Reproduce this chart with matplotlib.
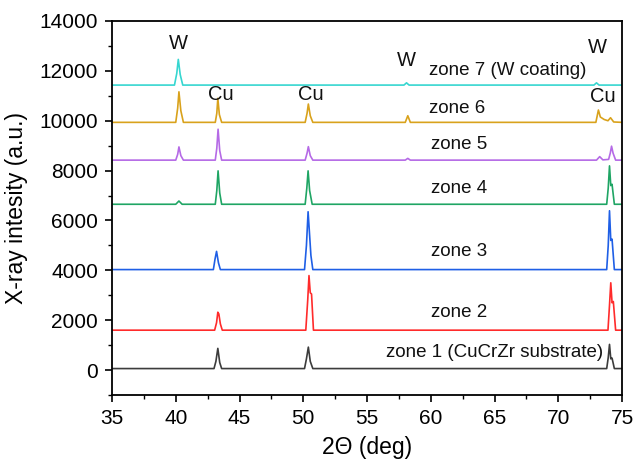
import matplotlib
matplotlib.use("Agg")
import matplotlib.pyplot as plt
from matplotlib.ticker import MultipleLocator

plt.rcParams['font.family'] = ['Liberation Sans', 'DejaVu Sans']

# ---- data (2-theta in deg, intensity in a.u.) ----
zone1_x = [35, 43.0, 43.15, 43.3, 43.45, 43.6, 50.1, 50.25, 50.4, 50.55, 50.75, 73.8, 73.92, 74.02, 74.12, 74.22, 74.4, 75]
zone1_y = [60, 60, 350, 870, 300, 60, 60, 450, 920, 350, 60, 60, 500, 1030, 450, 480, 60, 60]

zone2_x = [35, 43.05, 43.2, 43.3, 43.38, 43.5, 43.65, 50.2, 50.35, 50.45, 50.55, 50.65, 50.8, 73.9, 74.02, 74.12, 74.22, 74.32, 74.5, 75]
zone2_y = [1600, 1600, 1900, 2320, 2250, 1850, 1600, 1600, 2800, 3790, 3100, 3050, 1600, 1600, 2600, 3500, 2700, 2750, 1600, 1600]

zone3_x = [35, 42.95, 43.08, 43.2, 43.35, 43.5, 50.1, 50.25, 50.38, 50.5, 50.6, 50.75, 73.8, 73.92, 74.02, 74.12, 74.22, 74.4, 75]
zone3_y = [4030, 4030, 4450, 4760, 4300, 4030, 4030, 5000, 6350, 5400, 4600, 4030, 4030, 5000, 6390, 5200, 5250, 4030, 4030]

zone4_x = [35, 40.0, 40.25, 40.5, 43.1, 43.22, 43.32, 43.45, 43.6, 50.15, 50.28, 50.38, 50.5, 50.7, 73.8, 73.92, 74.02, 74.12, 74.22, 74.4, 75]
zone4_y = [6650, 6650, 6780, 6650, 6650, 7200, 7990, 7100, 6650, 6650, 7300, 7990, 7200, 6650, 6650, 7300, 8190, 7400, 7450, 6650, 6650]

zone5_x = [35, 40.0, 40.15, 40.25, 40.4, 40.6, 43.1, 43.22, 43.32, 43.45, 43.6, 50.15, 50.3, 50.4, 50.55, 50.75, 58.0, 58.2, 58.4, 73.0, 73.25, 73.5, 73.95, 74.08, 74.18, 74.3, 74.5, 75]
zone5_y = [8420, 8420, 8650, 8950, 8600, 8420, 8420, 8900, 9660, 8800, 8420, 8420, 8700, 8960, 8600, 8420, 8420, 8490, 8420, 8420, 8560, 8430, 8450, 8700, 8980, 8700, 8420, 8420]

zone6_x = [35, 40.0, 40.15, 40.25, 40.4, 40.6, 43.1, 43.22, 43.3, 43.42, 43.6, 50.15, 50.3, 50.4, 50.55, 50.75, 58.0, 58.2, 58.4, 72.95, 73.15, 73.3, 73.6, 73.9, 74.1, 74.35, 75]
zone6_y = [9935, 9935, 10500, 11160, 10400, 9935, 9935, 10300, 10900, 10250, 9935, 9935, 10300, 10670, 10200, 9935, 9935, 10200, 9935, 9935, 10430, 10150, 10050, 10000, 10120, 9950, 9935]

zone7_x = [35, 39.9, 40.08, 40.2, 40.35, 40.55, 57.9, 58.1, 58.3, 72.8, 73.0, 73.2, 75]
zone7_y = [11430, 11430, 11900, 12460, 11850, 11430, 11430, 11520, 11430, 11430, 11520, 11430, 11430]

zone_colors = ['#3c3c3c', '#ff2b2b', '#1f5fe6', '#1fa564', '#b56ae6', '#d9a21c', '#36d6d0']

zone_labels = ['zone 1 (CuCrZr substrate)', 'zone 2', 'zone 3', 'zone 4', 'zone 5', 'zone 6', 'zone 7 (W coating)']
zone_label_pos = [(56.5, 700), (60.0, 2300), (60.0, 4760), (60.0, 7300), (60.0, 9030), (59.9, 10500), (59.9, 12030)]

phase_labels = ['W', 'Cu', 'Cu', 'W', 'W', 'Cu']
phase_label_pos = [(40.2, 13100), (43.5, 11070), (50.6, 11070), (58.1, 12430), (73.05, 12920), (73.5, 10960)]

xticks = [35, 40, 45, 50, 55, 60, 65, 70, 75]
yticks = [0, 2000, 4000, 6000, 8000, 10000, 12000, 14000]

# ---- plot ----
fig = plt.figure(figsize=(6.34, 4.61), dpi=100)
ax = fig.add_axes([112/634, 1 - 395/461, (622-112)/634, (395-21)/461])

xs = [zone1_x, zone2_x, zone3_x, zone4_x, zone5_x, zone6_x, zone7_x]
ys = [zone1_y, zone2_y, zone3_y, zone4_y, zone5_y, zone6_y, zone7_y]
for x, y, c in zip(xs, ys, zone_colors):
    ax.plot(x, y, color=c, lw=1.2)

for lab, (x, y) in zip(zone_labels, zone_label_pos):
    ax.text(x, y, lab, fontsize=13.5, va='center', ha='left', color='#111111')
for lab, (x, y) in zip(phase_labels, phase_label_pos):
    ax.text(x, y, lab, fontsize=14.5, va='center', ha='center', color='#111111')

ax.set_xlim(35, 75)
ax.set_ylim(-1000, 14000)
ax.set_xticks(xticks)
ax.set_yticks(yticks)
ax.xaxis.set_minor_locator(MultipleLocator(2.5))
ax.yaxis.set_minor_locator(MultipleLocator(1000))
ax.tick_params(which='major', direction='out', length=5, width=1.2, labelsize=15, pad=5, top=False, right=False)
ax.tick_params(which='minor', direction='out', length=3, width=1.0, top=False, right=False)
for s in ax.spines.values():
    s.set_linewidth(1.3)
ax.set_xlabel('2\u0398 (deg)', fontsize=16.5, labelpad=6)
ax.set_ylabel('X-ray intesity (a.u.)', fontsize=16.5, labelpad=8)

fig.savefig('out.png', dpi=100)
